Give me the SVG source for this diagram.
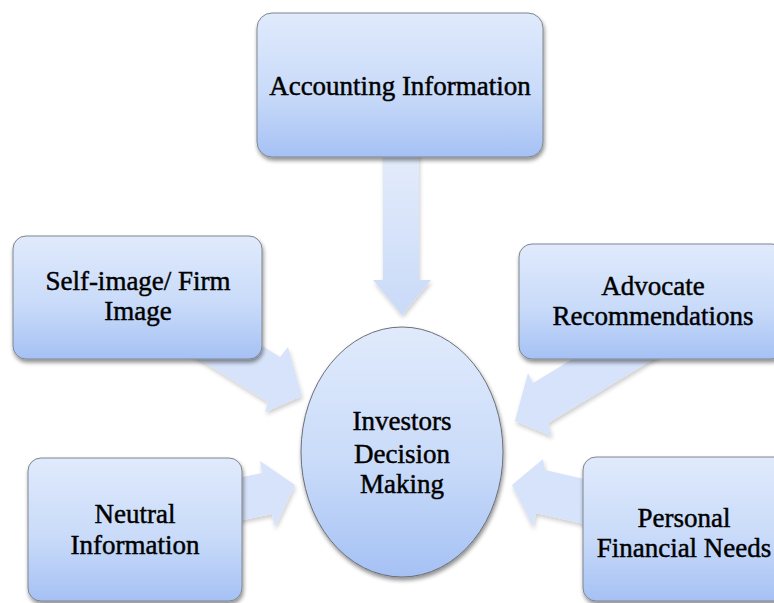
<svg xmlns="http://www.w3.org/2000/svg" width="774" height="603" viewBox="0 0 774 603">
  <defs>
    <linearGradient id="boxFill" x1="0" y1="0" x2="0" y2="1">
      <stop offset="0" stop-color="#e0eafc"/>
      <stop offset="0.55" stop-color="#c9dbf9"/>
      <stop offset="1" stop-color="#a5c1f4"/>
    </linearGradient>
    <linearGradient id="arrowFillV" x1="0" y1="0" x2="0" y2="1">
      <stop offset="0" stop-color="#e4ecfb"/>
      <stop offset="1" stop-color="#c9daf8"/>
    </linearGradient>
    <filter id="shadow" x="-10%" y="-10%" width="125%" height="130%">
      <feGaussianBlur in="SourceAlpha" stdDeviation="2"/>
      <feOffset dx="1" dy="3" result="blur"/>
      <feComponentTransfer><feFuncA type="linear" slope="0.45"/></feComponentTransfer>
      <feMerge><feMergeNode/><feMergeNode in="SourceGraphic"/></feMerge>
    </filter>
    <filter id="softShadow" x="-10%" y="-10%" width="125%" height="130%">
      <feGaussianBlur in="SourceAlpha" stdDeviation="2"/>
      <feOffset dx="1" dy="3" result="blur"/>
      <feComponentTransfer><feFuncA type="linear" slope="0.2"/></feComponentTransfer>
      <feMerge><feMergeNode/><feMergeNode in="SourceGraphic"/></feMerge>
    </filter>
  </defs>
  <style>
    .box { fill: url(#boxFill); stroke: #80868f; stroke-width: 1; filter: url(#shadow); }
    .arrow { fill: #d6e3fa; stroke: none; filter: url(#softShadow); }
    .label { font-family: "Liberation Serif", "Times New Roman", serif; font-size: 27px; fill: #000; stroke: #000; stroke-width: 0.45; text-anchor: middle; }
  </style>
  <rect width="774" height="603" fill="#ffffff"/>

  <!-- connectors: block arrows pointing at the central ellipse -->
  <g id="connectors">
    <polygon class="arrow" style="fill:url(#arrowFillV)" points="383,150 383,280 373,280 402,315 431,280 419,280 419,150"/>
    <polygon class="arrow" points="195,304 280,357 288,347 302,396 265,412 268,402 183,349"/>
    <polygon class="arrow" points="203,485 262,473 260,461 295,485 275,527 272,514 203,528"/>
    <polygon class="arrow" points="670,300 533,383 528,373 515,421 552,436 548,423 685,340"/>
    <polygon class="arrow" points="623,488 545,470 543,459 512,485 533,527 536,513 624,533"/>
  </g>

  <g id="accounting">
    <rect class="box" x="257" y="13" width="286" height="144" rx="15"/>
    <text class="label" x="400" y="95">Accounting Information</text>
  </g>

  <g id="self-image">
    <rect class="box" x="13" y="236" width="249" height="123" rx="13"/>
    <text class="label" x="138" y="290">Self-image/ Firm</text>
    <text class="label" x="138" y="320">Image</text>
  </g>

  <g id="neutral">
    <rect class="box" x="28" y="458" width="214" height="143" rx="13"/>
    <text class="label" x="135" y="523">Neutral</text>
    <text class="label" x="135" y="554">Information</text>
  </g>

  <g id="advocate">
    <rect class="box" x="519" y="244" width="266" height="115" rx="13"/>
    <text class="label" x="653" y="295">Advocate</text>
    <text class="label" x="653" y="325">Recommendations</text>
  </g>

  <g id="personal">
    <rect class="box" x="583" y="457" width="210" height="144" rx="13"/>
    <text class="label" x="684" y="527">Personal</text>
    <text class="label" x="684" y="557">Financial Needs</text>
  </g>

  <g id="investors">
    <ellipse class="box" cx="402" cy="452" rx="101" ry="125" style="stroke:#6b6f77"/>
    <text class="label" x="402" y="430">Investors</text>
    <text class="label" x="402" y="463">Decision</text>
    <text class="label" x="402" y="493">Making</text>
  </g>
</svg>
